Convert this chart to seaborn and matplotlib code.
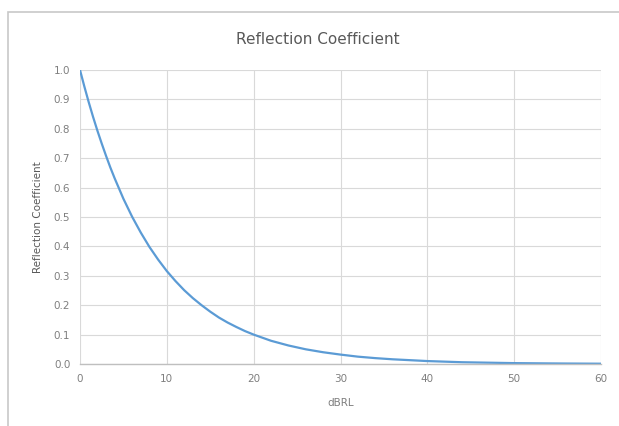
import matplotlib
matplotlib.use("Agg")
import matplotlib.pyplot as plt
import seaborn as sns
import pandas as pd
from matplotlib.patches import Rectangle

# Data
dbrl = [0, 0.5, 1, 1.5, 2, 2.5, 3, 3.5, 4, 5, 6, 7, 8, 9, 10, 11, 12, 13, 14, 15,
        16, 17, 18, 19, 20, 22, 24, 26, 28, 30,
        32, 34, 36, 38, 40, 42, 44, 46, 48, 50, 52, 54, 56, 58, 60]
refl = [1.0, 0.944, 0.891, 0.841, 0.794, 0.750, 0.708, 0.668, 0.631, 0.562,
        0.501, 0.447, 0.398, 0.355, 0.316, 0.282, 0.251, 0.224, 0.200, 0.178,
        0.158, 0.141, 0.126, 0.112, 0.100, 0.079, 0.063, 0.050, 0.040, 0.032,
        0.025, 0.020, 0.016, 0.013, 0.010, 0.008, 0.006, 0.005, 0.004, 0.003,
        0.0025, 0.002, 0.0016, 0.0013, 0.001]
x_ticks = [0, 10, 20, 30, 40, 50, 60]
y_ticks = [0.0, 0.1, 0.2, 0.3, 0.4, 0.5, 0.6, 0.7, 0.8, 0.9, 1.0]

df = pd.DataFrame({"dBRL": dbrl, "Reflection Coefficient": refl})

sns.set_theme(style="white")
plt.rcParams["font.family"] = ["DejaVu Sans"]

W, H = 619, 426
fig = plt.figure(figsize=(W / 100, H / 100), dpi=100)
fig.patch.set_facecolor("white")

# outer chart frame (left and top visible)
fig.patches.append(Rectangle((8 / W, -0.05), 1.1, 1 - 12 / H + 0.05,
                             transform=fig.transFigure, fill=False,
                             edgecolor="#c8c8c8", linewidth=1.2))

ax = fig.add_axes([80 / W, 1 - 364 / H, (601 - 80) / W, (364 - 70) / H])
sns.lineplot(data=df, x="dBRL", y="Reflection Coefficient", ax=ax,
             color="#5B9BD5", linewidth=1.6)

ax.set_xlim(0, 60)
ax.set_ylim(0, 1.0)
ax.set_xticks(x_ticks)
ax.set_yticks(y_ticks)
ax.set_xticklabels([str(t) for t in x_ticks])
ax.set_yticklabels([f"{t:.1f}" for t in y_ticks])
ax.grid(True, color="#d9d9d9", linewidth=0.8)
ax.set_axisbelow(True)
for s in ["top", "right", "left"]:
    ax.spines[s].set_visible(False)
ax.spines["bottom"].set_color("#bfbfbf")
ax.spines["bottom"].set_linewidth(1.0)
ax.tick_params(axis="both", length=0, labelsize=7.5, colors="#7f7f7f", pad=7)

ax.set_xlabel("dBRL", fontsize=7.5, color="#7f7f7f", labelpad=10)
ax.set_ylabel("Reflection Coefficient", fontsize=7.5, color="#595959", labelpad=8)
fig.text(318 / W, 1 - 40 / H, "Reflection Coefficient", ha="center", va="center",
         fontsize=11, color="#595959")

fig.savefig("out.png", dpi=100, facecolor="white")
